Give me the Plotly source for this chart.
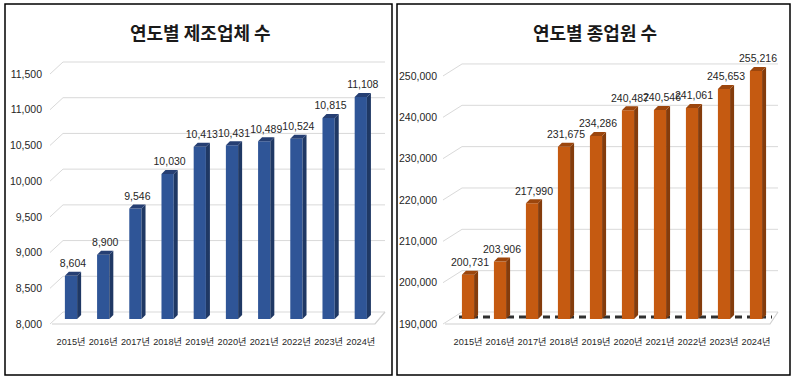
import plotly.graph_objects as go

# ---------------- data ----------------
years = ["2015년", "2016년", "2017년", "2018년", "2019년",
         "2020년", "2021년", "2022년", "2023년", "2024년"]
companies = [8604, 8900, 9546, 10030, 10413, 10431, 10489, 10524, 10815, 11108]
employees = [200731, 203906, 217990, 231675, 234286, 240487, 240546, 241061, 245653, 255216]
left_ticks = [8000, 8500, 9000, 9500, 10000, 10500, 11000, 11500]
right_ticks = [190000, 200000, 210000, 220000, 230000, 240000, 250000]
left_title = "연도별 제조업체 수"
right_title = "연도별 종업원 수"

W, H = 793, 379
NUM_FONT = "Liberation Sans, Arial, Noto Sans CJK KR, sans-serif"
TXT = "#262626"

fig = go.Figure()

panels = [
    dict(vals=companies, ticks=left_ticks, title=left_title, title_x=200,
         xa="x", ya="y", xkey="xaxis", ykey="yaxis",
         x_px=(46, 388), bar0=71, step=32.2, y0=324, upp=14.0,
         lead=(50, 63), gend=385, floor_front_end=375,
         front="#2F5597", side="#1F3864", top="#263F73", dashed=False),
    dict(vals=employees, ticks=right_ticks, title=right_title, title_x=595,
         xa="x2", ya="y2", xkey="xaxis2", ykey="yaxis2",
         x_px=(441, 781), bar0=468, step=32.0, y0=324, upp=241.9,
         lead=(443, 462), gend=778, floor_front_end=770,
         front="#C55A11", side="#843C0C", top="#9C460D", dashed=True),
]

TOP_PX, BOT_PX = 50, 335


def path(xs, ys):
    return "M " + " L ".join(f"{x},{y}" for x, y in zip(xs, ys))


for p in panels:
    floor = p["ticks"][0]
    vmax = p["ticks"][-1]
    upp = p["upp"]
    step = p["step"]
    bar0 = p["bar0"]
    xd = lambda px: (px - bar0) / step
    xr = [xd(p["x_px"][0]), xd(p["x_px"][1])]
    yr = [floor - (BOT_PX - p["y0"]) * upp, floor + (p["y0"] - TOP_PX) * upp]
    gdy = 12 * upp          # depth of back wall
    off = 5 * upp           # bar front plane offset
    bdx, bdy = 4 / step, 4 * upp   # bar depth
    bw = 0.38
    pos = list(range(len(p["vals"])))
    shown = [min(v, vmax) for v in p["vals"]]   # bars are cut at the axis maximum

    # gridlines on the back wall with a perspective lead-in (below the bars)
    for t in p["ticks"]:
        fig.add_shape(type="path", xref=p["xa"], yref=p["ya"], layer="below",
                      path=path([xd(p["lead"][0]), xd(p["lead"][1]), xd(p["gend"])],
                                [t, t + gdy, t + gdy]),
                      line=dict(color="#D9D9D9", width=1))
    # floor front edge
    fig.add_shape(type="path", xref=p["xa"], yref=p["ya"], layer="below",
                  path=path([xd(p["lead"][0] + 2), xd(p["floor_front_end"]), xd(p["gend"])],
                            [floor, floor, floor + gdy]),
                  line=dict(color="#D0D0D0", width=1.2))
    if p["dashed"]:
        fig.add_shape(type="line", xref=p["xa"], yref=p["ya"], layer="below",
                      x0=xd(p["lead"][1] - 3), x1=xd(p["gend"] - 6),
                      y0=floor + 7 * upp, y1=floor + 7 * upp,
                      line=dict(color="#303030", width=3, dash="7px,5px"))

    base = floor + off
    sx, sy, tx, ty = [], [], [], []
    for i, v in zip(pos, shown):
        r = i + bw / 2
        l = i - bw / 2
        vt = v + off
        sx += [r, r + bdx, r + bdx, r, r, None]
        sy += [base, base + bdy, vt + bdy, vt, base, None]
        tx += [l, r, r + bdx, l + bdx, l, None]
        ty += [vt, vt, vt + bdy, vt + bdy, vt, None]
    fig.add_trace(go.Scatter(x=sx, y=sy, mode="lines", fill="toself", fillcolor=p["side"],
                             line=dict(width=0, color=p["side"]), xaxis=p["xa"], yaxis=p["ya"],
                             hoverinfo="skip", showlegend=False))
    fig.add_trace(go.Bar(x=pos, y=[v + off - base for v in shown], base=base, width=bw,
                         marker=dict(color=p["front"], line=dict(width=0)),
                         xaxis=p["xa"], yaxis=p["ya"], showlegend=False,
                         customdata=p["vals"], hovertemplate="%{customdata:,}<extra></extra>"))
    fig.add_trace(go.Scatter(x=tx, y=ty, mode="lines", fill="toself", fillcolor=p["top"],
                             line=dict(width=0, color=p["top"]), xaxis=p["xa"], yaxis=p["ya"],
                             hoverinfo="skip", showlegend=False))
    # data labels
    fig.add_trace(go.Scatter(x=[i + bdx / 2 for i in pos],
                             y=[v + off + bdy + 2 * upp for v in shown],
                             mode="text", text=[f"{v:,}" for v in p["vals"]],
                             textposition="top center", cliponaxis=False,
                             textfont=dict(family=NUM_FONT, size=10.5, color=TXT),
                             xaxis=p["xa"], yaxis=p["ya"], hoverinfo="skip", showlegend=False))

    fig.update_layout(**{
        p["xkey"]: dict(domain=[p["x_px"][0] / W, p["x_px"][1] / W], range=xr,
                        tickvals=pos, ticktext=years, showgrid=False, zeroline=False,
                        showline=False, ticks="", fixedrange=True, tickangle=0,
                        tickfont=dict(family=NUM_FONT, size=9.2, color=TXT),
                        anchor=p["ya"]),
        p["ykey"]: dict(domain=[1 - BOT_PX / H, 1 - TOP_PX / H], range=yr,
                        tickvals=p["ticks"], ticktext=[f"{t:,}" for t in p["ticks"]],
                        showgrid=False, zeroline=False, showline=False, ticks="",
                        ticklabelstandoff=3, fixedrange=True,
                        tickfont=dict(family=NUM_FONT, size=10.5, color=TXT),
                        anchor=p["xa"]),
    })
    fig.add_annotation(x=p["title_x"] / W, y=1 - 32 / H, xref="paper", yref="paper",
                       text=f"<b>{p['title']}</b>", showarrow=False,
                       font=dict(family="Noto Sans CJK KR, sans-serif", size=18, color="#1a1a1a"),
                       xanchor="center", yanchor="middle")

# panel borders
for x0, x1 in [(5, 392), (397, 790)]:
    fig.add_shape(type="rect", xref="paper", yref="paper",
                  x0=x0 / W, x1=x1 / W, y0=1 - 375 / H, y1=1 - 4 / H,
                  line=dict(color="black", width=1.5), fillcolor="rgba(0,0,0,0)")

fig.update_layout(width=W, height=H, margin=dict(l=0, r=0, t=0, b=0),
                  paper_bgcolor="white", plot_bgcolor="white",
                  showlegend=False, barmode="overlay")

fig.write_html("out.html", config={"displayModeBar": False},
               post_script="document.body.style.margin='0';document.body.style.overflow='hidden';")
